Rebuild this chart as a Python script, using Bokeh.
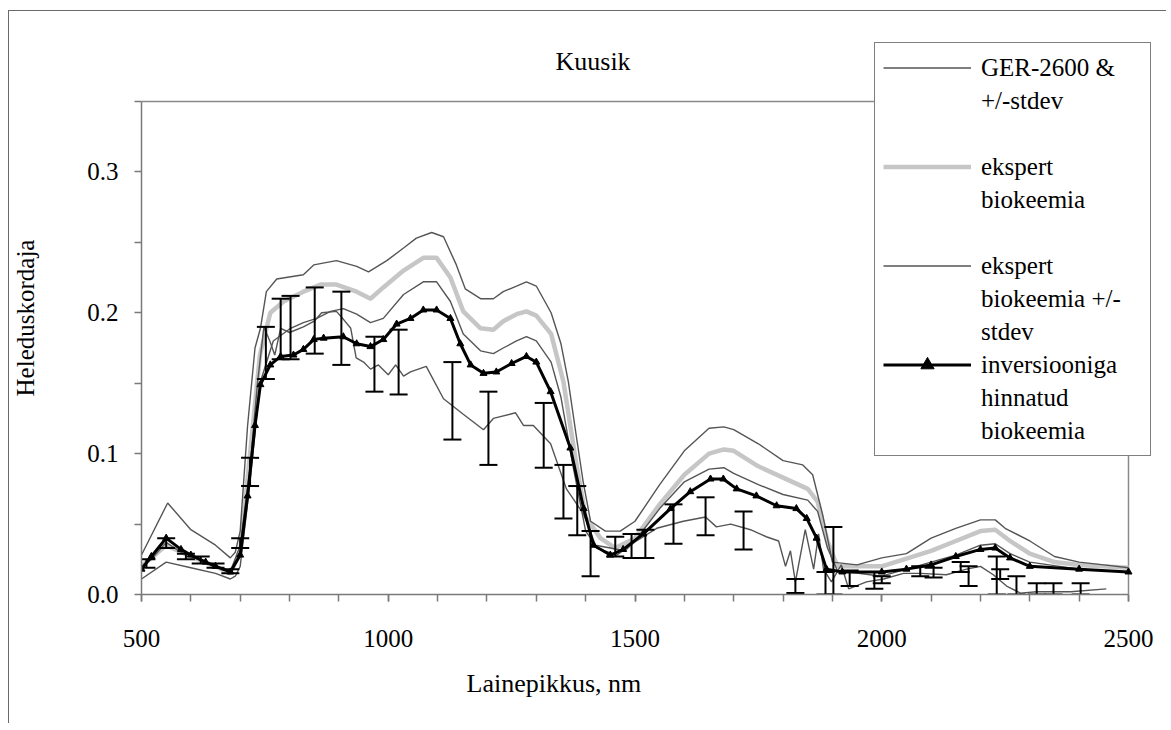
from bokeh.plotting import figure
from bokeh.models import (Legend, LegendItem, FixedTicker, PrintfTickFormatter,
                          Title, Range1d, Label)
from bokeh.embed import file_html
from bokeh.resources import INLINE

# ---------------- data ----------------
wl_ger = [500, 520, 550, 580, 600, 650, 680, 700, 720, 735, 748, 760, 770, 782, 800,
          828, 850, 865, 895, 910, 924, 935, 950, 964, 980, 1000, 1015, 1031, 1045,
          1077, 1112, 1152, 1193, 1213, 1258, 1274, 1294, 1329, 1361, 1396, 1422, 1463,
          1503, 1544, 1598, 1643, 1665, 1694, 1734, 1766, 1791, 1805, 1815, 1825, 1845,
          1862, 1872, 1882, 1898, 1918, 1933, 1969, 2004, 2044, 2078, 2131, 2172, 2200,
          2226, 2253, 2281, 2314, 2383, 2455]
ger = [0.020, 0.025, 0.037, 0.030, 0.027, 0.020, 0.016, 0.035, 0.090, 0.150, 0.190, 0.180,
       0.170, 0.189, 0.186, 0.190, 0.194, 0.200, 0.201, 0.195, 0.189, 0.168, 0.165, 0.160,
       0.163, 0.156, 0.163, 0.155, 0.158, 0.162, 0.139, 0.128, 0.117, 0.125, 0.129, 0.120,
       0.120, 0.107, 0.075, 0.057, 0.033, 0.028, 0.038, 0.047, 0.052, 0.055, 0.048, 0.050,
       0.046, 0.041, 0.038, 0.020, 0.031, 0.009, 0.046, 0.018, 0.043, 0.018, 0.009, 0.021,
       0.004, 0.009, 0.011, 0.015, 0.015, 0.014, 0.018, 0.020, 0.014, 0.006, 0.001, 0.002,
       0.002, 0.004]

err_wl = [510, 550, 590, 620, 650, 680, 700, 720, 752, 782, 802, 851, 905, 972, 1021,
          1130, 1203, 1315, 1355, 1383, 1410, 1460, 1493, 1521, 1578, 1643, 1720, 1825,
          1886, 1902, 1935, 1985, 2000, 2078, 2105, 2160, 2176, 2233, 2240, 2273, 2314,
          2348, 2403]
err_lo = [0.019, 0.033, 0.025, 0.022, 0.019, 0.015, 0.033, 0.077, 0.153, 0.167, 0.167,
          0.171, 0.163, 0.144, 0.142, 0.110, 0.092, 0.090, 0.054, 0.042, 0.013, 0.027,
          0.026, 0.026, 0.036, 0.042, 0.032, 0.001, 0.000, 0.000, 0.006, 0.004, 0.008,
          0.013, 0.012, 0.016, 0.006, 0.000, 0.011, 0.000, 0.000, 0.000, 0.000]
err_hi = [0.025, 0.040, 0.029, 0.027, 0.022, 0.018, 0.040, 0.097, 0.190, 0.210, 0.212,
          0.218, 0.215, 0.183, 0.188, 0.165, 0.144, 0.136, 0.092, 0.077, 0.045, 0.041,
          0.043, 0.046, 0.064, 0.069, 0.059, 0.011, 0.016, 0.048, 0.017, 0.016, 0.013,
          0.020, 0.019, 0.023, 0.020, 0.027, 0.018, 0.013, 0.008, 0.008, 0.008]

wl_mean = [500, 550, 600, 650, 680, 700, 720, 740, 761, 788, 828, 863, 895, 936, 964, 990,
           1031, 1071, 1098, 1126, 1152, 1187, 1213, 1233, 1260, 1280, 1300, 1330, 1355,
           1380, 1400, 1430, 1460, 1500, 1550, 1600, 1650, 1680, 1700, 1750, 1800, 1850,
           1870, 1890, 1910, 2000, 2100, 2150, 2200, 2230, 2260, 2300, 2350, 2400, 2500]
ekspert_mean = [0.020, 0.035, 0.027, 0.020, 0.015, 0.030, 0.100, 0.170, 0.200, 0.208, 0.215,
                0.220, 0.220, 0.215, 0.210, 0.218, 0.230, 0.239, 0.239, 0.225, 0.201, 0.189,
                0.188, 0.194, 0.199, 0.201, 0.198, 0.185, 0.151, 0.095, 0.055, 0.040, 0.033,
                0.040, 0.064, 0.085, 0.100, 0.103, 0.102, 0.091, 0.083, 0.075, 0.066, 0.038,
                0.020, 0.020, 0.031, 0.038, 0.045, 0.046, 0.038, 0.029, 0.023, 0.021, 0.019]

wl_upper = [500, 553, 600, 650, 680, 690, 700, 715, 730, 741, 753, 774, 828, 849, 895, 936,
            960, 997, 1031, 1057, 1088, 1112, 1138, 1156, 1187, 1213, 1233, 1260, 1280,
            1300, 1330, 1350, 1365, 1380, 1395, 1410, 1440, 1470, 1500, 1550, 1600, 1650,
            1680, 1700, 1750, 1800, 1840, 1860, 1880, 1900, 1950, 2000, 2050, 2100, 2150,
            2200, 2230, 2250, 2300, 2350, 2400, 2450, 2500]
ekspert_upper = [0.028, 0.065, 0.046, 0.035, 0.026, 0.030, 0.045, 0.120, 0.175, 0.189,
                 0.215, 0.224, 0.227, 0.234, 0.237, 0.233, 0.229, 0.237, 0.246, 0.253,
                 0.257, 0.254, 0.234, 0.217, 0.210, 0.210, 0.215, 0.219, 0.222, 0.219,
                 0.200, 0.178, 0.151, 0.115, 0.080, 0.052, 0.045, 0.045, 0.052, 0.078,
                 0.102, 0.118, 0.119, 0.117, 0.107, 0.095, 0.092, 0.085, 0.057, 0.023,
                 0.021, 0.026, 0.029, 0.040, 0.047, 0.053, 0.053, 0.047, 0.038, 0.027,
                 0.023, 0.021, 0.019]

wl_lower = [500, 550, 600, 650, 680, 690, 700, 720, 740, 767, 802, 828, 855, 883, 909, 936,
            964, 990, 1031, 1071, 1098, 1126, 1152, 1187, 1213, 1233, 1260, 1280, 1300,
            1330, 1350, 1375, 1400, 1420, 1450, 1480, 1500, 1550, 1600, 1650, 1680, 1700,
            1750, 1800, 1850, 1870, 1890, 1910, 2000, 2100, 2150, 2200, 2230, 2260, 2300,
            2400, 2500]
ekspert_lower = [0.011, 0.023, 0.019, 0.015, 0.011, 0.013, 0.020, 0.080, 0.150, 0.180,
                 0.189, 0.193, 0.196, 0.201, 0.203, 0.199, 0.193, 0.196, 0.213, 0.222,
                 0.222, 0.208, 0.185, 0.173, 0.171, 0.175, 0.180, 0.183, 0.180, 0.165,
                 0.140, 0.090, 0.045, 0.035, 0.033, 0.031, 0.038, 0.061, 0.080, 0.089,
                 0.090, 0.086, 0.078, 0.071, 0.067, 0.059, 0.033, 0.017, 0.013, 0.023,
                 0.028, 0.035, 0.036, 0.029, 0.023, 0.018, 0.016]

wl_inv = [500, 520, 550, 580, 600, 630, 650, 680, 700, 715, 730, 741, 761, 782, 808, 828,
          849, 869, 909, 936, 964, 990, 1017, 1045, 1071, 1098, 1126, 1146, 1167, 1193,
          1219, 1250, 1280, 1300, 1329, 1369, 1396, 1416, 1450, 1476, 1517, 1572, 1612,
          1653, 1679, 1706, 1746, 1787, 1827, 1848, 1868, 1888, 1920, 2000, 2050, 2100,
          2150, 2200, 2230, 2260, 2300, 2400, 2500]
inversion = [0.018, 0.027, 0.040, 0.032, 0.028, 0.023, 0.020, 0.016, 0.028, 0.070, 0.120,
             0.149, 0.163, 0.169, 0.170, 0.174, 0.181, 0.182, 0.183, 0.178, 0.176, 0.181,
             0.192, 0.196, 0.202, 0.202, 0.196, 0.178, 0.163, 0.157, 0.158, 0.164, 0.169,
             0.165, 0.144, 0.104, 0.061, 0.035, 0.028, 0.032, 0.043, 0.061, 0.073, 0.082,
             0.082, 0.075, 0.070, 0.063, 0.061, 0.054, 0.040, 0.018, 0.016, 0.016, 0.018,
             0.021, 0.027, 0.032, 0.033, 0.026, 0.020, 0.018, 0.016]

x_min, x_max = 500, 2500
y_min, y_max = 0.0, 0.35
x_major_ticks = [500, 1000, 1500, 2000, 2500]
x_minor_ticks = [500, 600, 700, 800, 900, 1000, 1100, 1200, 1300, 1400, 1500, 1600, 1700,
                 1800, 1900, 2000, 2100, 2200, 2300, 2400, 2500]
y_major_ticks = [0.0, 0.1, 0.2, 0.3]
y_minor_ticks = [0.05, 0.15, 0.25, 0.35]

title_text = "Kuusik"
x_label = "Lainepikkus, nm"
y_label = "Heleduskordaja"

# ---------------- layout (pixels) ----------------
FONT = "Liberation Serif"
AX = "#7a7a7a"
PLOT_W, PLOT_H = 987, 493          # visible plot area (axes box)
EXTRA_TOP, EXTRA_RIGHT = 60, 25    # frame extension for legend/title overlap
FRAME_W, FRAME_H = PLOT_W + EXTRA_RIGHT, PLOT_H + EXTRA_TOP
x_end = x_max + EXTRA_RIGHT * (x_max - x_min) / PLOT_W
y_end = y_max + EXTRA_TOP * (y_max - y_min) / PLOT_H

p = figure(frame_width=FRAME_W, frame_height=FRAME_H, output_backend="svg",
           toolbar_location=None,
           x_range=Range1d(x_min, x_end), y_range=Range1d(y_min, y_end),
           min_border_left=130, min_border_right=13, min_border_top=30,
           min_border_bottom=129,
           background_fill_color="white", border_fill_color="white")
p.styles = {"margin-left": "8px", "margin-top": "10px",
            "border-left": "1px solid #6a6a6a", "border-top": "1px solid #6a6a6a"}

p.outline_line_color = None
p.xgrid.visible = False
p.ygrid.visible = False

for ax in (p.xaxis[0], p.yaxis[0]):
    ax.axis_line_color = AX
    ax.axis_line_width = 1.5
    ax.major_tick_line_color = AX
    ax.minor_tick_line_color = AX
    ax.major_tick_line_width = 1.5
    ax.minor_tick_line_width = 1.5
    ax.major_tick_in = 0
    ax.major_tick_out = 7
    ax.minor_tick_in = 0
    ax.minor_tick_out = 7
    ax.major_label_text_font = FONT
    ax.major_label_text_font_size = "25px"
    ax.major_label_text_color = "black"

p.xaxis.bounds = (x_min, x_max)
p.yaxis.bounds = (y_min, y_max)
p.xaxis.ticker = FixedTicker(ticks=x_major_ticks, minor_ticks=x_minor_ticks)
p.yaxis.ticker = FixedTicker(ticks=y_major_ticks, minor_ticks=y_minor_ticks)
p.yaxis.formatter = PrintfTickFormatter(format="%.1f")
p.xaxis.major_label_standoff = 28
p.yaxis.major_label_standoff = 16

p.yaxis.axis_label = y_label
p.yaxis.axis_label_text_font = FONT
p.yaxis.axis_label_text_font_size = "25px"
p.yaxis.axis_label_text_font_style = "normal"
p.yaxis.axis_label_text_color = "black"
p.yaxis.axis_label_standoff = 45

p.add_layout(Title(text=x_label, align="left", offset=325, standoff=34,
                   text_font=FONT, text_font_size="26px", text_font_style="normal",
                   text_color="black"), "below")

# chart title placed inside the extended frame
p.add_layout(Label(x=414, y=FRAME_H - 20, x_units="screen", y_units="screen",
                   text=title_text, text_font=FONT, text_font_size="26px",
                   text_font_style="normal", text_color="black",
                   text_baseline="alphabetic"))

# plot-area border (top and right)
p.segment(x0=[x_min, x_max], y0=[y_max, y_min], x1=[x_max, x_max], y1=[y_max, y_max],
          line_color="#8a8a8a", line_width=1.5)

# ---------------- glyphs ----------------
r_mean = p.line(wl_mean, ekspert_mean, line_color="#c6c6c6", line_width=4.5)
r_up = p.line(wl_upper, ekspert_upper, line_color="#555555", line_width=1.4)
r_lo = p.line(wl_lower, ekspert_lower, line_color="#555555", line_width=1.4)
r_ger = p.line(wl_ger, ger, line_color="#555555", line_width=1.4)
r_inv = p.line(wl_inv, inversion, line_color="black", line_width=3)
r_invm = p.scatter(wl_inv, inversion, marker="triangle", size=7,
                   fill_color="black", line_color="black")

# error bars of GER-2600 (+/- stdev)
p.segment(x0=err_wl, y0=err_lo, x1=err_wl, y1=err_hi, line_color="black", line_width=2)
p.scatter(err_wl, err_lo, marker="dash", size=18, line_color="black", line_width=2)
p.scatter(err_wl, err_hi, marker="dash", size=18, line_color="black", line_width=2)

dummy = p.line([], [], line_alpha=0)

NB = "\u00a0"
legend_rows = [
    ("GER-2600 &", [r_ger]),
    ("+/-stdev", [dummy]),
    (" ", [dummy]),
    ("ekspert", [r_mean]),
    ("biokeemia", [dummy]),
    (" ", [dummy]),
    ("ekspert", [r_up]),
    ("biokeemia +/-", [dummy]),
    ("stdev", [dummy]),
    ("inversiooniga" + NB * 4, [r_inv, r_invm]),
    ("hinnatud", [dummy]),
    ("biokeemia", [dummy]),
]
items = [LegendItem(label=t, renderers=r) for t, r in legend_rows]
legend = Legend(items=items, location=(733, 138), label_text_font=FONT,
                label_text_font_size="25px", label_text_font_style="normal",
                label_text_color="black",
                label_height=33, glyph_height=33, glyph_width=88, label_standoff=10,
                spacing=0, padding=8, margin=0, border_line_color="black",
                border_line_width=1.5, background_fill_color="white",
                background_fill_alpha=1.0)
p.add_layout(legend)

open("out.html", "w").write(file_html(p, INLINE))
